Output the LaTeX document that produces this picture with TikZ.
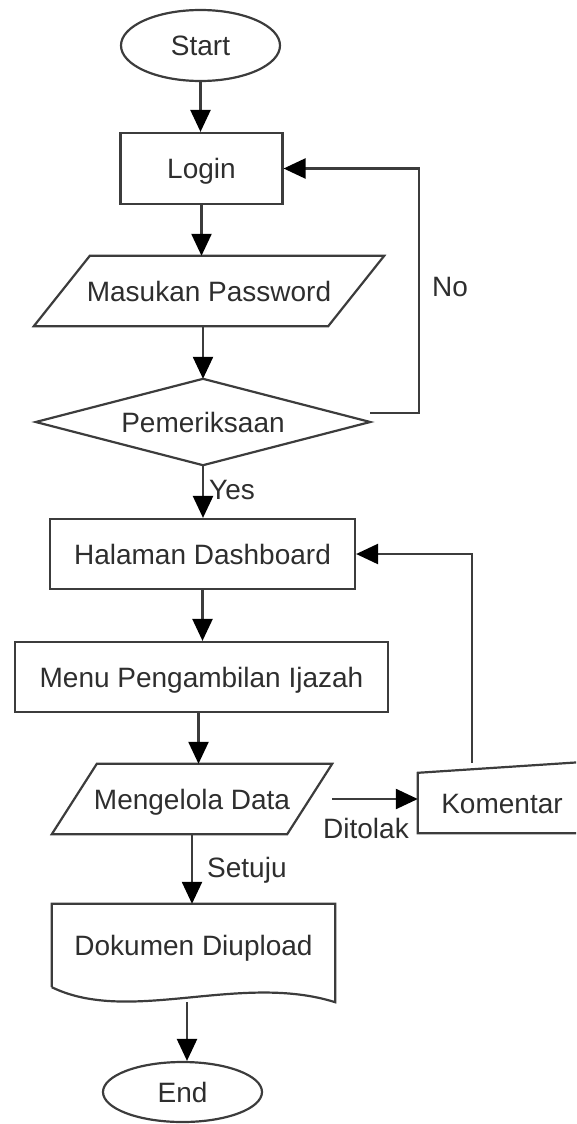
\documentclass[tikz,border=0pt]{standalone}
\usepackage{fontspec}
\setmainfont{Liberation Sans}
\usetikzlibrary{shapes.geometric,arrows.meta,calc}
\definecolor{ink}{HTML}{2E2E2E}
\definecolor{edge}{HTML}{3C3C3C}
\begin{document}
\begin{tikzpicture}[x=1pt,y=-1pt,
  every node/.style={font=\fontsize{28}{32}\selectfont, text=ink, inner sep=0pt,
    text height=20pt, text depth=0pt},
  outline/.style={draw=edge, line width=2.2pt, line join=miter},
  frame/.style={rectangle, minimum height=70pt},
  terminal/.style={ellipse, outline, minimum width=159pt},
  procbox/.style={rectangle, outline, minimum height=70pt},
  arr/.style={draw=edge, line width=2.4pt,
    -{Triangle[length=22pt,width=20pt,color=black]}},
  tag/.style={}
]
\useasboundingbox (0,0) rectangle (576,1124);
\clip (0,0) rectangle (576,1124);

% process steps
\node[terminal, minimum height=71pt] (start) at (200.5,45.5) {Start};
\node[procbox, minimum width=162pt, minimum height=71pt] (login) at (201.5,168.5) {Login};
\node[frame, minimum width=350pt] (mas) at (209,291) {Masukan Password};
\node[rectangle, minimum width=334pt, minimum height=86pt] (pem) at (203,422) {Pemeriksaan};
\node[procbox, minimum width=305pt] (hal) at (202.5,554) {Halaman Dashboard};
\node[procbox, minimum width=373pt] (menu) at (201.5,677) {Menu Pengambilan Ijazah};
\node[frame, minimum width=280pt] (meng) at (192,799) {Mengelola Data};
\node[rectangle, minimum width=168pt, minimum height=60pt] (kom) at (502,803) {Komentar};
\node[rectangle, minimum width=283pt, minimum height=83pt] (doc) at (193.5,945.5) {Dokumen Diupload};
\node[terminal, minimum height=60pt] (endn) at (182.5,1092) {End};

% input / output parallelograms
\draw[outline] ($(mas.north west)+(56,0)$) -- (mas.north east)
  -- ($(mas.south east)+(-56,0)$) -- (mas.south west) -- cycle;
\draw[outline] ($(meng.north west)+(45,0)$) -- (meng.north east)
  -- ($(meng.south east)+(-45,0)$) -- (meng.south west) -- cycle;

% decision
\draw[outline] (pem.north) -- (pem.east) -- (pem.south) -- (pem.west) -- cycle;

% manual input
\draw[outline] (kom.south west) -- (kom.north west)
  -- ($(kom.north east)+(0,-11)$) -- (kom.south east) -- cycle;

% document with wavy bottom
\draw[outline] (doc.south west) -- (doc.north west) -- (doc.north east)
  -- ($(doc.south east)+(0,15)$)
  .. controls ($(doc.south west)+(188,-15)$) and ($(doc.south west)+(78,38)$) .. (doc.south west);

% edge labels
\node (no) at (450,286) {No};
\node[anchor=west] (yes) at (209,489) {Yes};
\node (ditolak) at (366,828) {Ditolak};
\node[anchor=west] (setuju) at (207,867) {Setuju};

% connectors
\coordinate (nobend) at (419,168.5);
\coordinate (komtop) at ($(kom.north west)+(54,-10)$);
\coordinate (docout) at ($(doc.south)+(-6.5,15)$);
\coordinate (menuout) at ($(menu.south)+(-3,0)$);

\draw[arr] (start.south) -- (start.south |- login.north);
\draw[arr] (login.south) -- (login.south |- mas.north);
\draw[arr] (mas.south -| pem.north) -- (pem.north);
\draw[arr] ($(pem.east)+(0,-9)$) -| (nobend) -- (login.east);
\draw[arr] (pem.south) -- (pem.south |- hal.north);
\draw[arr] (hal.south) -- (hal.south |- menu.north);
\draw[arr] (menuout) -- (menuout |- meng.north);
\draw[arr] (meng.east) -- (meng.east -| kom.west);
\draw[arr] (komtop) |- (hal.east);
\draw[arr] (meng.south) -- (meng.south |- doc.north);
\draw[arr] (docout) -- (docout |- endn.north);
\end{tikzpicture}
\end{document}
